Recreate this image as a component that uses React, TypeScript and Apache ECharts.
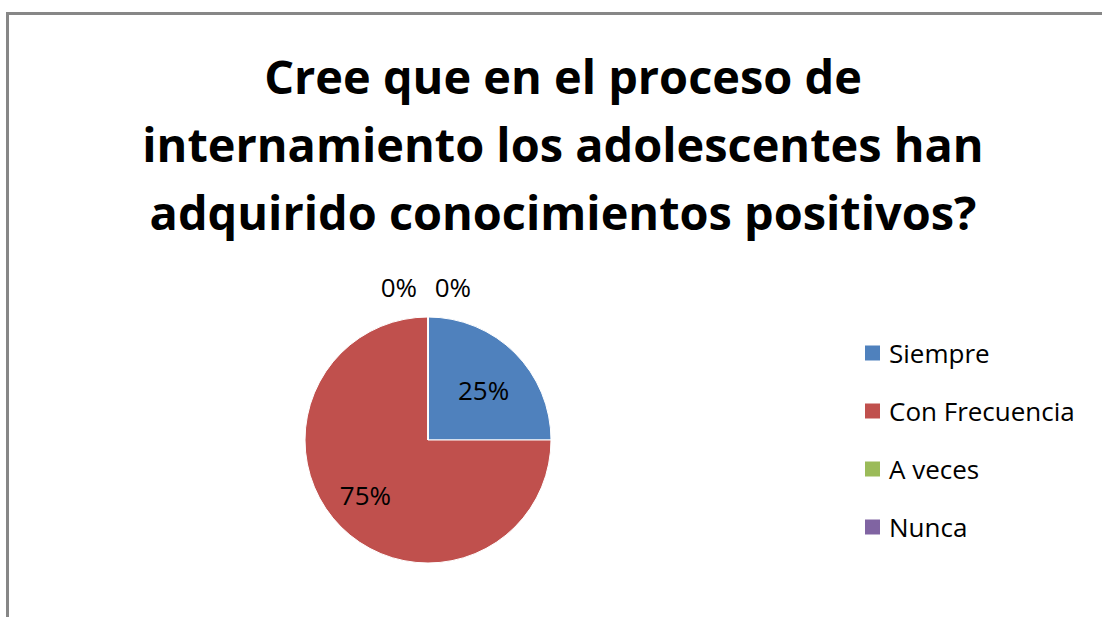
import React, { useEffect, useRef } from "react";
import * as echarts from "echarts";

const titleText = "Cree que en el proceso de\ninternamiento los adolescentes han\nadquirido conocimientos positivos?";
const categories = ["Siempre", "Con Frecuencia", "A veces", "Nunca"];
const percentages = [25, 75, 0, 0];
const colors = ["#4F81BD", "#C0504D", "#9BBB59", "#8064A2"];

export default function App() {
  const ref = useRef<HTMLDivElement>(null);
  useEffect(() => {
    if (!ref.current) return;
    const chart = echarts.init(ref.current, null, { renderer: "svg" });
    const font = "'Open Sans', Lato, sans-serif";
    chart.setOption({
      animation: false,
      backgroundColor: "#ffffff",
      title: {
        text: titleText,
        left: 558,
        top: 37,
        textAlign: "center",
        textStyle: {
          fontFamily: font,
          fontWeight: "bold",
          fontSize: 46.9,
          lineHeight: 68,
          color: "#000000",
        },
      },
      legend: {
        orient: "vertical",
        left: 863,
        top: 340,
        padding: 0,
        itemWidth: 17,
        itemHeight: 17,
        itemGap: 32,
        icon: "rect",
        data: categories,
        textStyle: {
          fontFamily: font,
          fontSize: 26,
          color: "#000000",
          padding: [0, 0, 0, 3],
        },
      },
      graphic: [
        {
          type: "rect",
          shape: { x: 7.5, y: 13.5, width: 1200, height: 700 },
          style: { fill: "none", stroke: "#878787", lineWidth: 3 },
          silent: true,
        },
      ],
      series: [
        {
          type: "pie",
          center: [428, 440],
          radius: 123,
          startAngle: 90,
          clockwise: true,
          avoidLabelOverlap: false,
          itemStyle: { borderColor: "#ffffff", borderWidth: 1 },
          label: {
            show: true,
            position: "inside",
            formatter: "{c}%",
            fontFamily: font,
            fontSize: 26,
            color: "#000000",
          },
          labelLine: { show: false, length: 30, length2: 0 },
          labelLayout: (p: any) => {
            if (p.dataIndex === 0) return { dx: 10, dy: -4 };
            if (p.dataIndex === 1) return { dx: -17, dy: 9 };
            if (p.dataIndex === 2) return { dx: -6 };
            if (p.dataIndex === 3) return { dx: 48 };
            return {};
          },
          data: categories.map((name, i) => ({
            name,
            value: percentages[i],
            itemStyle: { color: colors[i] },
            label: i >= 2 ? { position: "outside" } : undefined,
          })),
        },
      ],
    });
    return () => chart.dispose();
  }, []);
  return (
    <div
      ref={ref}
      style={{ position: "absolute", left: 0, top: 0, width: 1102, height: 617 }}
    />
  );
}
